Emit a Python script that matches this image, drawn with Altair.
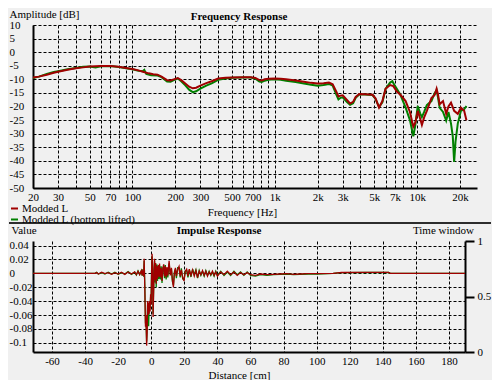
import altair as alt
import pandas as pd

FONT = "Liberation Serif"
RED = "#a00000"
GREEN = "#008000"
BG = "#f0f0f0"
SERIES = ["Modded L", "Modded L (bottom lifted)"]

# ---- Frequency response (Hz, dB) ----
red_f = [20, 22, 25, 28, 30, 35, 40, 45, 50, 60, 70, 80, 90, 100, 110, 120, 130, 140, 150, 160,
         175, 185, 195, 208, 220, 235, 250, 265, 280, 300, 330, 360, 400, 450, 500, 600, 680, 730,
         780, 810, 850, 900, 1000, 1100, 1200, 1400, 1600, 1800, 2000, 2200, 2400, 2550, 2700, 2800,
         2900, 3000, 3200, 3380, 3550, 3700, 3920, 4300, 4860, 5100, 5400, 5700, 6000, 6460, 6800,
         7200, 7630, 8300, 8900, 9400, 9700, 10100, 10500, 10800, 11200, 11700, 12600, 13300, 13700,
         14000, 14400, 15200, 16000, 16600, 17300, 18200, 19300, 20300, 21400, 22200]
red_db = [-9.3, -9.0, -8.3, -7.6, -7.2, -6.5, -5.9, -5.6, -5.3, -5.1, -5.1, -5.4, -5.8, -6.2, -6.7,
          -7.3, -7.8, -8.1, -8.3, -9.0, -10.3, -10.4, -10.0, -9.5, -10.3, -11.5, -12.7, -13.3, -13.1,
          -12.3, -11.4, -10.7, -9.7, -9.4, -9.3, -9.2, -9.2, -9.5, -10.3, -10.4, -10.0, -9.8, -9.7,
          -9.8, -10.0, -10.4, -10.9, -11.3, -11.5, -11.4, -11.2, -11.8, -14.5, -16.3, -16.0, -15.9,
          -17.5, -18.9, -18.3, -16.5, -15.4, -15.5, -15.7, -17.0, -20.4, -18.0, -13.5, -12.1, -12.5,
          -14.5, -15.7, -18.0, -22.0, -27.4, -26.0, -21.6, -24.5, -26.8, -24.0, -21.6, -16.9, -15.7,
          -13.5, -15.5, -19.2, -18.0, -22.7, -20.0, -18.6, -21.6, -22.7, -20.4, -21.6, -25.1]

green_f = [20, 22, 25, 28, 30, 35, 40, 45, 50, 55, 60, 70, 80, 90, 100, 110, 118, 121, 125, 135, 150,
           160, 175, 185, 195, 208, 220, 235, 250, 265, 280, 300, 330, 360, 400, 450, 500, 600, 680,
           730, 780, 810, 850, 900, 1000, 1100, 1200, 1400, 1600, 1800, 2000, 2200, 2400, 2550, 2700,
           2800, 2900, 3000, 3200, 3380, 3550, 3700, 3920, 4300, 4860, 5100, 5400, 5700, 6000, 6460,
           6700, 7000, 7630, 8300, 8900, 9400, 9700, 10100, 10500, 10800, 11200, 11700, 12600, 13300,
           13700, 14000, 14400, 15200, 16000, 16600, 17300, 17800, 18200, 18600, 19300, 20300, 21400,
           22200]
green_db = [-9.5, -9.0, -8.0, -7.3, -7.0, -6.3, -5.8, -5.4, -5.3, -5.6, -5.2, -5.1, -5.5, -5.9, -6.3,
            -6.8, -7.0, -6.5, -8.0, -8.5, -8.6, -9.2, -10.8, -10.9, -10.3, -9.7, -10.7, -12.2, -13.8,
            -14.7, -14.4, -13.4, -12.3, -11.5, -10.2, -9.7, -9.4, -9.3, -9.3, -9.8, -10.8, -11.0,
            -10.5, -10.2, -10.0, -10.2, -10.5, -11.0, -11.5, -12.0, -12.4, -12.1, -11.7, -12.3, -15.5,
            -17.4, -16.8, -16.6, -18.3, -19.4, -18.8, -16.8, -15.6, -15.6, -15.8, -17.2, -20.2, -18.5,
            -13.5, -11.2, -10.7, -12.5, -15.7, -20.4, -25.0, -31.0, -27.0, -19.8, -22.5, -23.9, -22.0,
            -19.5, -18.0, -15.0, -14.0, -16.5, -20.5, -22.0, -25.2, -22.0, -26.3, -31.0, -40.4, -33.0,
            -26.3, -21.6, -21.0, -19.8]

# ---- Impulse response (cm, value) ----
dist = [-71.5, -34, -33, -32, -30, -28, -26, -24, -22, -20, -18, -16, -14, -12, -10, -9, -8, -7, -6,
        -5.5, -5, -4.6, -4.3, -3.9, -3.5, -3.2, -2.8, -2.5, -2.2, -1.9, -1.6, -1.3, -1.0, -0.7, -0.4,
        -0.1, 0.2, 0.5, 0.8, 1.1, 1.4, 1.7, 2.0, 2.3, 2.7, 3.0, 3.4, 3.8, 4.2, 4.6, 5.0, 5.5, 6.0,
        6.5, 7.0, 7.5, 8.0, 8.5, 9.0, 9.5, 10.0, 10.8, 11.5, 12.2, 12.8, 13.4, 14.0, 14.6, 15.2, 16.0,
        16.8, 17.5, 18.2, 19.0, 19.8, 20.6, 21.4, 22.2, 23, 24, 25, 26, 27, 28, 29, 30, 31, 32, 33,
        34, 35, 36, 37, 38, 39, 40, 42, 44, 46, 48, 50, 52, 54, 56, 58, 60, 63, 66, 70, 74, 78, 82,
        86, 90, 95, 100, 110, 115, 130, 143.5, 144.5, 189.7]
red_imp = [0, 0, 0.001, -0.001, 0.0015, -0.0005, 0.001, -0.0015, 0.001, -0.001, 0.0015, -0.0015,
           0.002, -0.001, 0.002, -0.002, 0.003, -0.002, 0.004, -0.003, 0.005, -0.004, 0.021, -0.02,
           -0.077, -0.06, -0.104, -0.085, -0.04, -0.06, -0.042, -0.058, -0.04, -0.055, -0.03, -0.045,
           0.0, 0.028, 0.01, -0.063, -0.03, 0.0, 0.021, -0.01, 0.015, -0.015, 0.01, -0.008, 0.012,
           -0.005, 0.014, -0.006, 0.008, -0.011, 0.006, 0.013, -0.004, 0.01, -0.006, 0.009, -0.003,
           0.018, -0.003, 0.008, -0.01, -0.02, 0.0, 0.008, -0.004, 0.006, 0.01, -0.004, 0.005, -0.006,
           -0.011, 0.003, 0.006, -0.004, 0.006, -0.003, 0.005, -0.004, 0.004, -0.006, 0.003, -0.002,
           0.004, -0.003, 0.003, -0.004, 0.002, -0.002, 0.003, -0.003, 0.002, -0.004, 0.002, -0.002,
           0.003, -0.002, 0.002, -0.003, 0.001, -0.002, 0.001, -0.002, -0.003, -0.001, -0.002,
           -0.0015, -0.001, -0.0005, -0.0015, -0.001, -0.0005, -0.0005, 0.0, 0.0012, 0.0015, 0.0015,
           0.0, 0.0]
green_imp = [0, 0, 0.0015, -0.001, 0.001, -0.001, 0.0015, -0.001, 0.0015, -0.0015, 0.001, -0.001,
             0.0025, -0.0015, 0.0015, -0.0025, 0.0035, -0.0015, 0.0035, -0.0035, 0.006, -0.005, 0.018,
             -0.018, -0.072, -0.064, -0.098, -0.08, -0.045, -0.066, -0.076, -0.052, -0.044, -0.05,
             -0.034, -0.04, 0.004, 0.024, 0.006, -0.058, -0.026, 0.004, 0.018, -0.013, 0.012, -0.02,
             0.013, -0.011, 0.01, -0.008, 0.011, -0.009, 0.01, -0.014, 0.008, 0.01, -0.007, 0.012,
             -0.009, 0.007, -0.006, 0.014, -0.001, 0.006, -0.012, -0.017, 0.002, 0.006, -0.007, 0.008,
             0.008, -0.006, 0.007, -0.008, -0.009, 0.004, 0.004, -0.006, 0.005, -0.005, 0.006, -0.002,
             0.005, -0.007, 0.004, -0.003, 0.003, -0.004, 0.004, -0.003, 0.003, -0.003, 0.002, -0.004,
             0.003, -0.003, 0.003, -0.003, 0.002, -0.003, 0.003, -0.002, 0.002, -0.003, 0.002, -0.003,
             -0.004, -0.002, -0.003, -0.002, -0.0015, -0.001, -0.002, -0.0015, -0.001, -0.001, 0.0,
             0.001, 0.0012, 0.0012, 0.0, 0.0]

# ---- Time window axis ----
tw_d = [-71.5, 189.7]
tw_v = [1, 1]

# ---- Axis ticks ----
f_grid = [20, 30, 40, 50, 60, 70, 80, 90, 100, 200, 300, 400, 500, 600, 700, 800, 900,
          1000, 2000, 3000, 4000, 5000, 6000, 7000, 8000, 9000, 10000, 20000]
f_labels = [20, 30, 50, 70, 100, 200, 300, 500, 700, 1000, 2000, 3000, 5000, 7000, 10000, 20000]
db_ticks = [10, 5, 0, -5, -10, -15, -20, -25, -30, -35, -40, -45, -50]
d_ticks = [-60, -40, -20, 0, 20, 40, 60, 80, 100, 120, 140, 160, 180]
v_ticks = [0.04, 0.02, 0, -0.02, -0.04, -0.06, -0.08, -0.1]
tw_ticks = [0, 0.5, 1]

red_df = pd.DataFrame({"f": red_f, "db": red_db, "s": SERIES[0]})
green_df = pd.DataFrame({"f": green_f, "db": green_db, "s": SERIES[1]})
imp_df = pd.DataFrame({"d": dist, "red": red_imp, "green": green_imp})
tw_df = pd.DataFrame({"d": tw_d, "w": tw_v})

grid_kw = dict(grid=True, gridDash=[3, 2], gridColor="black", gridWidth=1, gridOpacity=1)
lbl_expr = "indexof(%s, datum.value) >= 0 ? (datum.value >= 1000 ? (datum.value/1000) + 'k' : '' + datum.value) : ''" % str(f_labels)

x_top = alt.X("f:Q",
              scale=alt.Scale(type="log", domain=[20, 26340], nice=False),
              axis=alt.Axis(values=f_grid, labelExpr=lbl_expr, ticks=False, tickSize=0,
                            labelPadding=3, labelFlush=False, labelOverlap=False,
                            domainColor="black", domainWidth=2,
                            title="Frequency [Hz]", titleX=209, titleY=24,
                            titleBaseline="middle", **grid_kw))
y_top = alt.Y("db:Q",
              scale=alt.Scale(domain=[-50, 10], nice=False, zero=False),
              axis=alt.Axis(values=db_ticks, labelExpr="'' + datum.value", labelAlign="left",
                            labelPadding=24, ticks=False, tickSize=0,
                            domainColor="black", domainWidth=2,
                            title="Amplitude [dB]", titleAngle=0, titleAlign="left",
                            titleX=-24, titleY=-6, titleBaseline="bottom", **grid_kw))
color = alt.Color("s:N", scale=alt.Scale(domain=SERIES, range=[RED, GREEN]),
                  legend=alt.Legend(orient="none", legendX=-24, legendY=178, title=None,
                                    symbolType="stroke", symbolSize=49, symbolStrokeWidth=2,
                                    labelFont=FONT, labelFontSize=11, labelColor="black",
                                    rowPadding=-4, labelOffset=2, padding=0))

top_green = alt.Chart(green_df).mark_line(strokeWidth=2, clip=True).encode(x=x_top, y=y_top, color=color)
top_red = alt.Chart(red_df).mark_line(strokeWidth=2, clip=True).encode(x=x_top, y=y_top, color=color)
top = alt.layer(top_green, top_red).properties(
    width=444, height=163,
    title=alt.TitleParams("Frequency Response", fontSize=11, font=FONT, fontWeight="bold",
                          anchor="middle", offset=2, dx=-16, dy=16, color="black"))

x_bot = alt.X("d:Q",
              scale=alt.Scale(domain=[-71.5, 189.7], nice=False, zero=False),
              axis=alt.Axis(values=d_ticks, labelExpr="'' + datum.value", ticks=False, tickSize=0,
                            labelPadding=3, labelFlush=False, labelOverlap=False,
                            domainColor="black", domainWidth=2,
                            title="Distance [cm]", titleX=206, titleY=23,
                            titleBaseline="middle", **grid_kw))
v_axis = alt.Axis(values=v_ticks, labelExpr="'' + datum.value", labelAlign="left", labelPadding=24,
                  ticks=False, tickSize=0, domainColor="black", domainWidth=2, orient="left",
                  title="Value", titleAngle=0, titleAlign="left", titleX=-22, titleY=-6,
                  titleBaseline="bottom", **grid_kw)
v_scale = alt.Scale(domain=[-0.1132, 0.0465], nice=False, zero=False)

bot_green = alt.Chart(imp_df).mark_line(strokeWidth=1.3, color=GREEN, clip=True).encode(
    x=x_bot, y=alt.Y("green:Q", scale=v_scale, axis=v_axis))
bot_red = alt.Chart(imp_df).mark_line(strokeWidth=1.3, color=RED, clip=True).encode(
    x=x_bot, y=alt.Y("red:Q", scale=v_scale, axis=v_axis))
sep = alt.Chart(tw_df).mark_rule(color="#202020", strokeWidth=1.5).encode(
    x=alt.value(-24), x2=alt.value(458), y=alt.value(-18))
left_layers = alt.layer(sep, bot_green, bot_red)

tw_layer = alt.Chart(tw_df).mark_line(opacity=0).encode(
    x=x_bot,
    y=alt.Y("w:Q", scale=alt.Scale(domain=[0, 1], nice=False, zero=False),
            axis=alt.Axis(values=tw_ticks, labelExpr="'' + datum.value", orient="right",
                          ticks=True, tickSize=9, tickWidth=2, tickColor="black",
                          labelPadding=3, labelAlign="left", grid=False,
                          domainColor="black", domainWidth=2,
                          title="Time window", titleAngle=0, titleAlign="center",
                          titleX=-22, titleY=-6, titleBaseline="bottom")))

bottom = alt.layer(left_layers, tw_layer).resolve_scale(y="independent").properties(
    width=432, height=111,
    title=alt.TitleParams("Impulse Response", fontSize=11, font=FONT, fontWeight="bold",
                          anchor="middle", offset=2, dx=-30, dy=16, color="black"))

chart = alt.vconcat(top, bottom, spacing=53, bounds="flush").properties(
    padding=0, background=BG
).configure_view(stroke=None).configure_axis(
    labelFont=FONT, titleFont=FONT, labelFontSize=11, titleFontSize=11,
    labelColor="black", titleColor="black", titleFontWeight="normal"
)

chart.save("out.html", embed_options={"renderer": "svg", "actions": False})
